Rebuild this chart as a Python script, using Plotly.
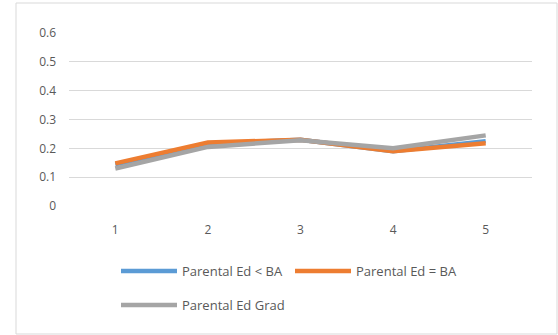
import plotly.graph_objects as go

categories = ["1", "2", "3", "4", "5"]
ed_less_ba = [0.145, 0.215, 0.23, 0.19, 0.225]
ed_eq_ba = [0.148, 0.22, 0.23, 0.19, 0.218]
ed_grad = [0.13, 0.205, 0.228, 0.2, 0.245]
y_ticks = [0, 0.1, 0.2, 0.3, 0.4, 0.5, 0.6]

series = [
    ("Parental Ed < BA", ed_less_ba, "#5b9bd5", "legend"),
    ("Parental Ed = BA", ed_eq_ba, "#ed7d31", "legend"),
    ("Parental Ed Grad", ed_grad, "#a5a5a5", "legend2"),
]

W, H = 558, 335
L, R, T, B = 69, 26, 33, 129
pw, ph = W - L - R, H - T - B

fig = go.Figure()
for name, vals, color, leg in series:
    fig.add_trace(go.Scatter(
        x=categories, y=vals, name=name, mode="lines",
        line=dict(color=color, width=4.5), legend=leg,
    ))

font_color = "#595959"
legend_font = dict(size=13, color=font_color)
legend_x = (116 - L) / pw

fig.update_layout(
    width=W, height=H,
    margin=dict(l=L, r=R, t=T, b=B),
    paper_bgcolor="white", plot_bgcolor="white",
    font=dict(family="Open Sans, Liberation Sans, sans-serif", size=12, color=font_color),
    xaxis=dict(
        type="category", range=[-0.5, 4.5], showgrid=False, zeroline=False,
        showline=False, ticks="", tickfont=dict(size=12, color=font_color),
        ticklabelstandoff=15,
    ),
    yaxis=dict(
        range=[0, 0.6], tickvals=y_ticks, ticktext=[f"{v:g}" for v in y_ticks],
        showgrid=True, gridcolor="#d9d9d9", gridwidth=1, zeroline=False,
        showline=False, ticks="", tickfont=dict(size=12, color=font_color),
        ticklabelstandoff=12,
    ),
    showlegend=True,
    legend=dict(
        orientation="h", x=legend_x, xanchor="left",
        y=(H - B - 271) / ph, yanchor="middle",
        entrywidth=103, entrywidthmode="pixels",
        font=legend_font, itemwidth=56,
    ),
    legend2=dict(
        orientation="h", x=legend_x, xanchor="left",
        y=(H - B - 305) / ph, yanchor="middle",
        font=legend_font, itemwidth=56,
    ),
    shapes=[dict(
        type="rect", xref="paper", yref="paper",
        x0=(16 - L) / pw, x1=(557 - L) / pw,
        y0=(H - B - 334) / ph, y1=(H - B - 3) / ph,
        line=dict(color="#d9d9d9", width=1), fillcolor="rgba(0,0,0,0)",
        layer="below",
    )],
)

fig.write_html("out.html")
